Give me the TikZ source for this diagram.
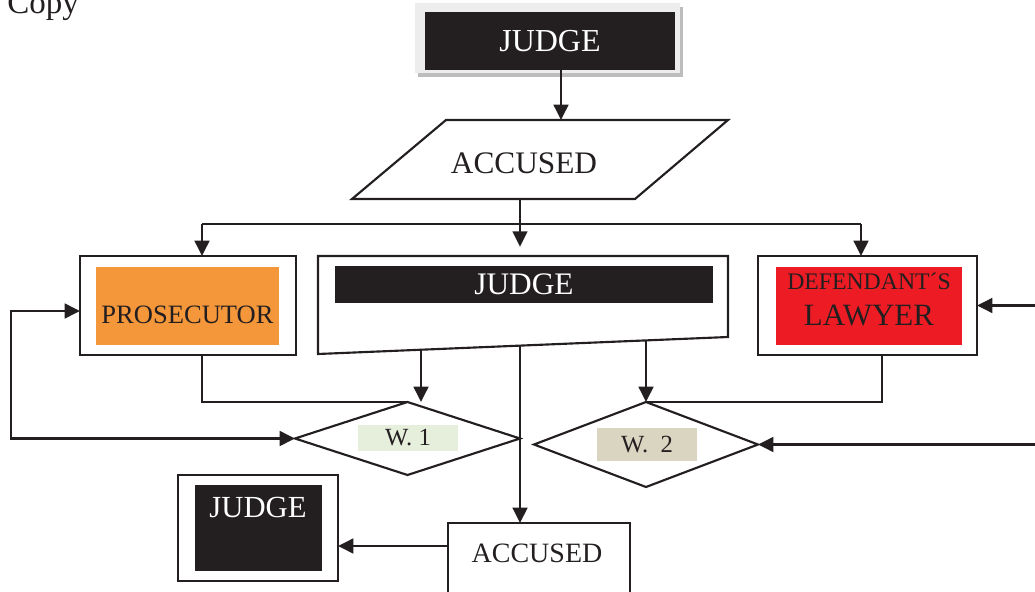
\documentclass[tikz,border=0pt]{standalone}
\usepackage{fontspec}
\setmainfont{Liberation Serif}
\usetikzlibrary{arrows.meta,shapes.geometric,calc}
\definecolor{ink}{HTML}{231F20}
\definecolor{prosorange}{HTML}{F4963A}
\definecolor{defred}{HTML}{ED1C24}
\definecolor{wonegreen}{HTML}{E6EEDC}
\definecolor{wtwotan}{HTML}{D9D5C0}
\definecolor{framegray}{HTML}{EDEDED}
\definecolor{shadowgray}{HTML}{BDBDBD}
\begin{document}
\begin{tikzpicture}[x=0.75pt,y=-0.75pt,
  box/.style={draw=ink,line width=1.7pt,rectangle,inner sep=0pt,outer sep=0pt},
  panel/.style={rectangle,inner sep=0pt,outer sep=0pt},
  wire/.style={draw=ink,line width=1.9pt},
  arr/.style={wire,-{Triangle[length=11.5pt,width=11pt]}},
  arrboth/.style={wire,{Triangle[length=11.5pt,width=11pt]}-{Triangle[length=11.5pt,width=11pt]}},
  decision/.style={diamond,draw=ink,line width=1.6pt,inner sep=0pt,outer sep=0pt},
  txt/.style={inner sep=0pt,text=ink},
  big/.style={font=\fontsize{23.5}{27}\selectfont},
]
\useasboundingbox (0,0) rectangle (1035,592);
\clip (0,0) rectangle (1035,592);

% corner caption
\node[txt,anchor=base west,font=\fontsize{24.75}{28}\selectfont] (copyLbl) at (7,14) {Copy};

% judge at the top, black plate on a grey frame with drop shadow
\node[panel,fill=shadowgray,minimum width=198.75pt,minimum height=52.5pt] (jtShadow) at (550.5,42) {};
\node[panel,fill=framegray,minimum width=198.75pt,minimum height=52.5pt] (jtFrame) at (547.5,38) {};
\node[panel,fill=ink,text=white,minimum width=187.5pt,minimum height=43.5pt,font=\fontsize{24}{28}\selectfont] (judgeTop) at (550,41) {JUDGE};

% accused, parallelogram
\coordinate (paTL) at (446,120);
\coordinate (paTR) at (728,120);
\coordinate (paBR) at (635,199);
\coordinate (paBL) at (352,199);
\draw[draw=ink,line width=1.6pt] (paTL) -- (paTR) -- (paBR) -- (paBL) -- cycle;
\node[txt,big] (accText) at (524,163) {ACCUSED};
\coordinate (accIn) at (561,120);
\coordinate (accOut) at (520,199);

% prosecutor
\node[box,minimum width=162pt,minimum height=74.25pt] (pros) at (188,305.5) {};
\node[panel,fill=prosorange,minimum width=137.25pt,minimum height=58.5pt] (prosPlate) at (187.5,306) {};
\node[txt,font=\fontsize{19.9}{23}\selectfont] (prosText) at (187.5,315) {PROSECUTOR};

% judge in the middle, box with a slanted lower edge
\coordinate (jmTL) at (318,256);
\coordinate (jmTR) at (728,256);
\coordinate (jmBR) at (728,337);
\coordinate (jmBL) at (318,354);
\draw[draw=ink,line width=1.6pt] (jmTL) -- (jmTR) -- (jmBR) -- (jmBL) -- cycle;
\node[panel,fill=ink,text=white,minimum width=283.5pt,minimum height=27.75pt,big] (judgeMid) at (524,284.5) {JUDGE};
\coordinate (jmOut1) at ($(jmBL)!0.2512!(jmBR)$);
\coordinate (jmOut2) at ($(jmBL)!0.4927!(jmBR)$);
\coordinate (jmOut3) at ($(jmBL)!0.8!(jmBR)$);

% defendant's lawyer
\node[box,minimum width=164.25pt,minimum height=74.25pt] (def) at (867.5,305.5) {};
\node[panel,fill=defred,minimum width=139.5pt,minimum height=58.5pt] (defPlate) at (869,306) {};
\node[txt,font=\fontsize{17.8}{20}\selectfont] (defText) at (869,281) {DEFENDANT´S};
\node[txt,font=\fontsize{23.25}{27}\selectfont] (lawText) at (869,315) {LAWYER};

% witnesses
\node[decision,minimum width=168.75pt,minimum height=54.75pt] (w1) at (407.5,438.5) {};
\node[panel,fill=wonegreen,minimum width=75pt,minimum height=19.5pt,text=ink,font=\fontsize{18.5}{21}\selectfont] (w1Lbl) at (408,438) {W. 1};
\node[decision,minimum width=168pt,minimum height=63.75pt] (w2) at (646,444.5) {};
\node[panel,fill=wtwotan,minimum width=75pt,minimum height=24.75pt,text=ink,font=\fontsize{18.5}{21}\selectfont] (w2Lbl) at (647,444.5) {W.\ \ 2};

% judge at the bottom
\node[box,minimum width=120pt,minimum height=79.5pt] (judgeBot) at (258,528) {};
\node[panel,fill=ink,minimum width=95.25pt,minimum height=64.5pt] (judgeBotPlate) at (258.5,528) {};
\node[txt,text=white,font=\fontsize{23}{27}\selectfont] (judgeBotText) at (258,507) {JUDGE};

% accused at the bottom (runs past the lower edge)
\node[box,minimum width=136.5pt,minimum height=60pt] (accBot) at (539,563) {};
\node[txt,font=\fontsize{21}{24}\selectfont] (accBotText) at (537,553) {ACCUSED};

% helper points for the wiring
\coordinate (split) at (520,224);
\coordinate (brL) at (202,224);
\coordinate (brR) at (861,224);
\coordinate (fbX) at (11,311);
\coordinate (defX) at (882,0);
\coordinate (rEdge) at (1035,0);
\coordinate (accBotL) at (448,546);

% connectors
\draw[arr] (judgeTop.south -| accIn) -- (accIn);
\draw[wire] (accOut) -- (split);
\draw[wire] (brL) -- (brR);
\draw[arr] (brL) -- (brL |- pros.north);
\draw[arr,shorten >=7pt] (split) -- (split |- jmTL);
\draw[arr] (brR) -- (brR |- def.north);

\draw[arrboth] (w1.west) -| (fbX) -- (fbX -| pros.west);
\draw[arr] (rEdge |- def.east) -- (def.east);
\draw[arr] (rEdge |- w2.east) -- (w2.east);

\draw[wire,line width=1.6pt] (brL |- pros.south) |- (w1.north);
\draw[wire,line width=1.6pt] (defX |- def.south) |- (w2.north);

\draw[arr] (jmOut1) -- (jmOut1 |- w1.north);
\draw[arr] (jmOut3) -- (jmOut3 |- w2.north);
\draw[arr] (jmOut2) -- (jmOut2 |- accBot.north);

\draw[arr] (accBotL) -- (accBotL -| judgeBot.east);
\end{tikzpicture}
\end{document}
